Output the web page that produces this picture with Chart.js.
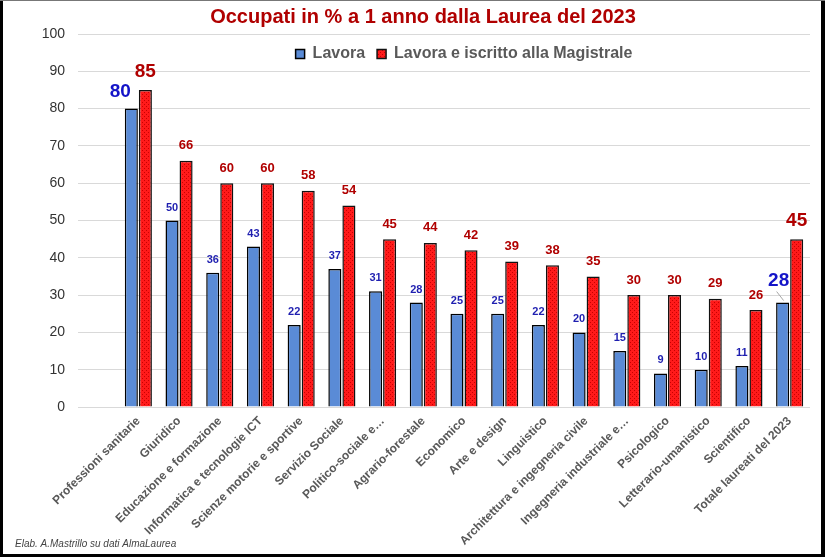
<!DOCTYPE html>
<html>
<head>
<meta charset="utf-8">
<script src="https://cdn.jsdelivr.net/npm/chart.js@4.4.1/dist/chart.umd.min.js"></script>
<style>
  html, body { margin: 0; padding: 0; background: #fff; }
  #wrap { width: 825px; height: 557px; position: relative; }
</style>
</head>
<body>
<div id="wrap"><canvas id="chart" width="825" height="557"></canvas></div>
<script>
const categories = [
  "Professioni sanitarie", "Giuridico", "Educazione e formazione", "Informatica e tecnologie ICT",
  "Scienze motorie e sportive", "Servizio Sociale", "Politico-sociale e…", "Agrario-forestale",
  "Economico", "Arte e design", "Linguistico", "Architettura e ingegneria civile",
  "Ingegneria industriale e…", "Psicologico", "Letterario-umanistico", "Scientifico",
  "Totale laureati del 2023"
];
const lavora = [80, 50, 36, 43, 22, 37, 31, 28, 25, 25, 22, 20, 15, 9, 10, 11, 28];
const lavoraMagistrale = [85, 66, 60, 60, 58, 54, 45, 44, 42, 39, 38, 35, 30, 30, 29, 26, 45];
const seriesNames = ["Lavora", "Lavora e iscritto alla Magistrale"];
const bigIdx = [0, 16];

const FONT = "'Liberation Sans', Arial, sans-serif";

// dotted red fill like the original
const pc = document.createElement("canvas");
pc.width = 4; pc.height = 4;
const pctx = pc.getContext("2d");
pctx.fillStyle = "#ff1a1a";
pctx.fillRect(0, 0, 4, 4);
pctx.fillStyle = "#c80000";
pctx.fillRect(0, 0, 1, 1);
pctx.fillRect(2, 2, 1, 1);
const redFill = pctx.createPattern(pc, "repeat");

const labelsPlugin = {
  id: "barLabels",
  afterDatasetsDraw(chart) {
    const ctx = chart.ctx;
    ctx.save();
    ctx.textAlign = "center";
    ctx.textBaseline = "middle";
    chart.data.datasets.forEach((ds, di) => {
      chart.getDatasetMeta(di).data.forEach((bar, i) => {
        const big = bigIdx.includes(i);
        let dx = 0, dy;
        if (di === 0) {
          ctx.fillStyle = big ? "#1414c8" : "#1f1fb0";
          ctx.font = "bold " + (big ? 19 : 11) + "px " + FONT;
          dy = big ? -17 : -13;
          if (i === 0) dx = -11;
          if (i === 16) { dx = -4; dy = -22; }
        } else {
          ctx.fillStyle = "#b00000";
          ctx.font = "bold " + (big ? 19 : 13) + "px " + FONT;
          dy = big ? -18 : -15;
        }
        const lx = bar.x + dx, ly = bar.y + dy;
        ctx.fillText(ds.data[i], lx, ly);
        if (di === 0 && i === 16) {
          ctx.strokeStyle = "#a6a6a6";
          ctx.lineWidth = 1;
          ctx.beginPath();
          ctx.moveTo(lx - 2, ly + 11);
          ctx.lineTo(bar.x + 1, bar.y - 2);
          ctx.stroke();
        }
      });
    });
    ctx.restore();
  }
};

const framePlugin = {
  id: "frame",
  afterInit(chart) {
    // legend takes no room: it sits inside the plot area, as in the original
    const lg = chart.legend;
    const fit = lg.fit;
    lg.fit = function () { fit.call(this); this.height = 0; };
  },
  afterLayout(chart) {
    const lg = chart.legend;
    lg.height = 40;
    lg.bottom = lg.top + 40;
  },
  afterDraw(chart) {
    const ctx = chart.ctx;
    ctx.save();
    ctx.fillStyle = "#444";
    ctx.font = "italic 10px " + FONT;
    ctx.textAlign = "left";
    ctx.textBaseline = "middle";
    ctx.fillText("Elab. A.Mastrillo su dati AlmaLaurea", 15, 544);
    ctx.fillStyle = "#000";
    ctx.fillRect(0, 0, 3, 557);
    ctx.fillRect(821, 0, 4, 557);
    ctx.fillRect(0, 554, 825, 3);
    ctx.fillStyle = "#777";
    ctx.fillRect(0, 0, 825, 1);
    ctx.restore();
  }
};

new Chart(document.getElementById("chart"), {
  type: "bar",
  data: {
    labels: categories,
    datasets: [
      {
        label: seriesNames[0],
        data: lavora,
        backgroundColor: "#5a8bd6",
        borderColor: "#000",
        borderWidth: 1.5
      },
      {
        label: seriesNames[1],
        data: lavoraMagistrale,
        backgroundColor: redFill,
        borderColor: "#111",
        borderWidth: 1.5
      }
    ]
  },
  options: {
    responsive: false,
    animation: false,
    categoryPercentage: 0.69,
    barPercentage: 0.93,
    layout: { padding: { left: 36, right: 15, top: 0, bottom: 0 } },
    plugins: {
      title: {
        display: true,
        text: "Occupati in % a 1 anno dalla Laurea del 2023",
        color: "#b00000",
        font: { family: FONT, size: 20, weight: "bold" },
        padding: { top: 5, bottom: 5 }
      },
      legend: {
        position: "top",
        fullSize: false,
        labels: {
          boxWidth: 9,
          boxHeight: 9,
          padding: 12,
          color: "#595959",
          font: { family: FONT, size: 16, weight: "bold" }
        }
      },
      tooltip: { enabled: false }
    },
    scales: {
      x: {
        grid: { display: false, drawTicks: false },
        border: { display: false },
        ticks: {
          color: "#595959",
          font: { family: FONT, size: 12, weight: "bold" },
          minRotation: 45,
          maxRotation: 45,
          padding: 7,
          autoSkip: false
        },
        afterFit(scale) { scale.height = 150; }
      },
      y: {
        min: 0,
        max: 100,
        ticks: {
          stepSize: 10,
          color: "#333",
          font: { family: FONT, size: 14 },
          padding: 13
        },
        grid: { color: "#d9d9d9", tickLength: 40, tickColor: "#d9d9d9" },
        border: { display: false },
        afterFit(scale) { scale.width = 82; }
      }
    }
  },
  plugins: [labelsPlugin, framePlugin]
});
</script>
</body>
</html>
